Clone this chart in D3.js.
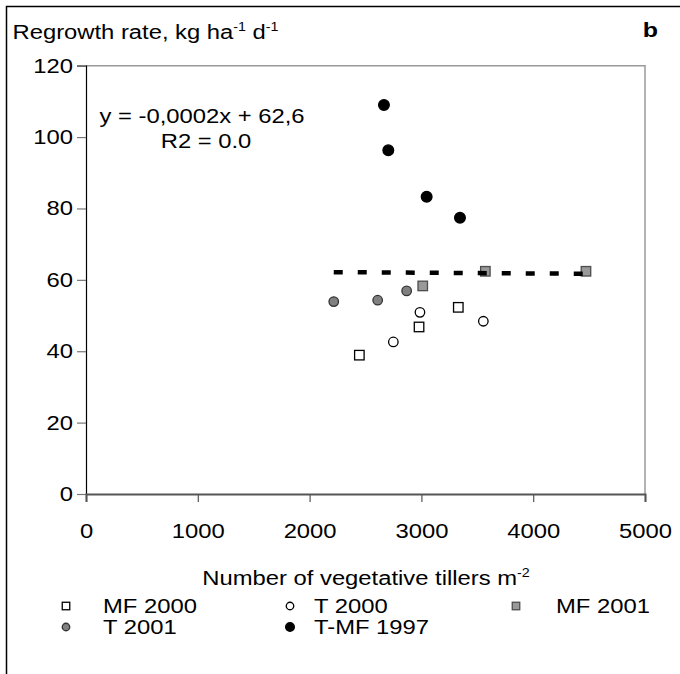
<!DOCTYPE html>
<html>
<head>
<meta charset="utf-8">
<script src="https://cdn.jsdelivr.net/npm/d3@7"></script>
<style>
  body { margin: 0; background: #fff; }
  text { font-family: "Liberation Sans", Arial, sans-serif; fill: #000; }
</style>
</head>
<body>
<svg id="chart" width="680" height="674"></svg>
<script>
// tillers m-2 / regrowth kg ha-1 d-1
const MF2000_X = [2445, 2979, 3330]
const MF2000_Y = [38.9, 46.8, 52.3]
const T2000_X = [2749, 2987, 3554]
const T2000_Y = [42.6, 50.9, 48.4]
const MF2001_X = [3012, 3572, 4472]
const MF2001_Y = [58.3, 62.4, 62.4]
const T2001_X = [2216, 2609, 2868]
const T2001_Y = [53.9, 54.3, 56.9]
const TMF1997_X = [2665, 2704, 3047, 3345]
const TMF1997_Y = [109.0, 96.3, 83.3, 77.4]

const TREND = { slope: -0.0002, intercept: 62.6 }
const X_TICKS = [0, 1000, 2000, 3000, 4000, 5000]
const Y_TICKS = [0, 20, 40, 60, 80, 100, 120]

const SERIES = [
  { name: 'MF 2000', xs: MF2000_X, ys: MF2000_Y, shape: 'square', fill: '#fff', stroke: '#000' },
  { name: 'T 2000', xs: T2000_X, ys: T2000_Y, shape: 'circle', fill: '#fff', stroke: '#000' },
  { name: 'MF 2001', xs: MF2001_X, ys: MF2001_Y, shape: 'square', fill: '#999', stroke: '#4d4d4d' },
  { name: 'T 2001', xs: T2001_X, ys: T2001_Y, shape: 'circle', fill: '#808080', stroke: '#333' },
  { name: 'T-MF 1997', xs: TMF1997_X, ys: TMF1997_Y, shape: 'dot', fill: '#000', stroke: '#000' }
]

const svg = d3.select('#chart')
const fs = 20
const SX = 1.19  // the original text is rendered a bit wide

// text placed at (x,y) and stretched horizontally
const label = (parent, x, y, txt, anchor = 'start', size = fs) =>
  parent.append('text')
    .attr('transform', `translate(${x},${y}) scale(${SX},1)`)
    .attr('text-anchor', anchor)
    .attr('font-size', size)
    .text(txt)

const x = d3.scaleLinear().domain([0, 5000]).range([86, 645])
const y = d3.scaleLinear().domain([0, 120]).range([494, 65.7])

// outer frame (only left and top visible)
svg.append('path')
  .attr('d', 'M6.5,700 L6.5,6.5 L700,6.5')
  .attr('fill', 'none').attr('stroke', '#000').attr('stroke-width', 1.5)

// plot box: top + right in gray
svg.append('path')
  .attr('d', `M${x(0)},${y(120)} L${x(5000)},${y(120)} L${x(5000)},${y(0)}`)
  .attr('fill', 'none').attr('stroke', '#999').attr('stroke-width', 1.5)

const yAxis = svg.append('g')
  .attr('transform', `translate(${x(0)},0)`)
  .call(d3.axisLeft(y).tickValues(Y_TICKS).tickSize(9).tickPadding(4).tickFormat(d3.format('d')))
yAxis.select('.domain').attr('stroke', '#000').attr('stroke-width', 1.2)
yAxis.selectAll('.tick line').attr('stroke', '#777').attr('stroke-width', 1.2)
yAxis.selectAll('.tick text')
  .attr('font-size', fs).attr('font-family', '"Liberation Sans", Arial, sans-serif')
  .attr('x', -13 / SX).attr('transform', `scale(${SX},1)`)

const xAxis = svg.append('g')
  .attr('transform', `translate(0,${y(0)})`)
  .call(d3.axisBottom(x).tickValues(X_TICKS).tickSize(8).tickPadding(22).tickFormat(d3.format('d')))
xAxis.select('.domain').attr('stroke', '#555').attr('stroke-width', 2)
xAxis.selectAll('.tick line').attr('stroke', '#555').attr('stroke-width', 1.2)
xAxis.selectAll('.tick text')
  .attr('font-size', fs).attr('font-family', '"Liberation Sans", Arial, sans-serif')
  .attr('transform', `scale(${SX},1)`)

// titles
const yTitle = label(svg, 12.5, 39, '')
yTitle.append('tspan').text('Regrowth rate, kg ha')
yTitle.append('tspan').attr('dy', -8).attr('font-size', 12).text('-1')
yTitle.append('tspan').attr('dy', 8).text(' d')
yTitle.append('tspan').attr('dy', -8).attr('font-size', 12).text('-1')

const xTitle = label(svg, 366, 585, '', 'middle')
xTitle.append('tspan').text('Number of vegetative tillers m')
xTitle.append('tspan').attr('dy', -8).attr('font-size', 12).text('-2')

label(svg, 658, 37, 'b', 'end', 21).attr('font-weight', 'bold')

label(svg, 202, 122.5, 'y = -0,0002x + 62,6', 'middle')
label(svg, 206, 148, 'R2 = 0.0', 'middle')

const drawMarker = (g, s, cx, cy, size) => {
  if (s.shape === 'square') {
    g.append('rect')
      .attr('x', cx - size / 2).attr('y', cy - size / 2)
      .attr('width', size).attr('height', size)
      .attr('fill', s.fill).attr('stroke', s.stroke).attr('stroke-width', 1.3)
  } else {
    const r = s.shape === 'dot' ? size / 2 + 0.6 : size / 2
    g.append('circle')
      .attr('cx', cx).attr('cy', cy).attr('r', r)
      .attr('fill', s.fill).attr('stroke', s.stroke).attr('stroke-width', 1.3)
  }
}

const pts = svg.append('g')
SERIES.forEach(s => {
  s.xs.forEach((v, i) => drawMarker(pts, s, x(v), y(s.ys[i]), 9.5))
})

// linear trend across all points
const allX = SERIES.flatMap(s => s.xs)
const x0 = d3.min(allX), x1 = d3.max(allX)
svg.append('line')
  .attr('x1', x(x0)).attr('y1', y(TREND.intercept + TREND.slope * x0))
  .attr('x2', x(x1)).attr('y2', y(TREND.intercept + TREND.slope * x1))
  .attr('stroke', '#000').attr('stroke-width', 4.5)
  .attr('stroke-dasharray', '9,15')

// legend, 3 columns
const LEG_MARK = [66, 290, 516]
const LEG_TEXT = [103, 314, 556]
const legend = svg.append('g')
SERIES.forEach((s, i) => {
  const col = i % 3, row = Math.floor(i / 3)
  const by = 613 + row * 21
  drawMarker(legend, s, LEG_MARK[col], by - 7, 7.5)
  label(legend, LEG_TEXT[col], by, s.name)
})
</script>
</body>
</html>
